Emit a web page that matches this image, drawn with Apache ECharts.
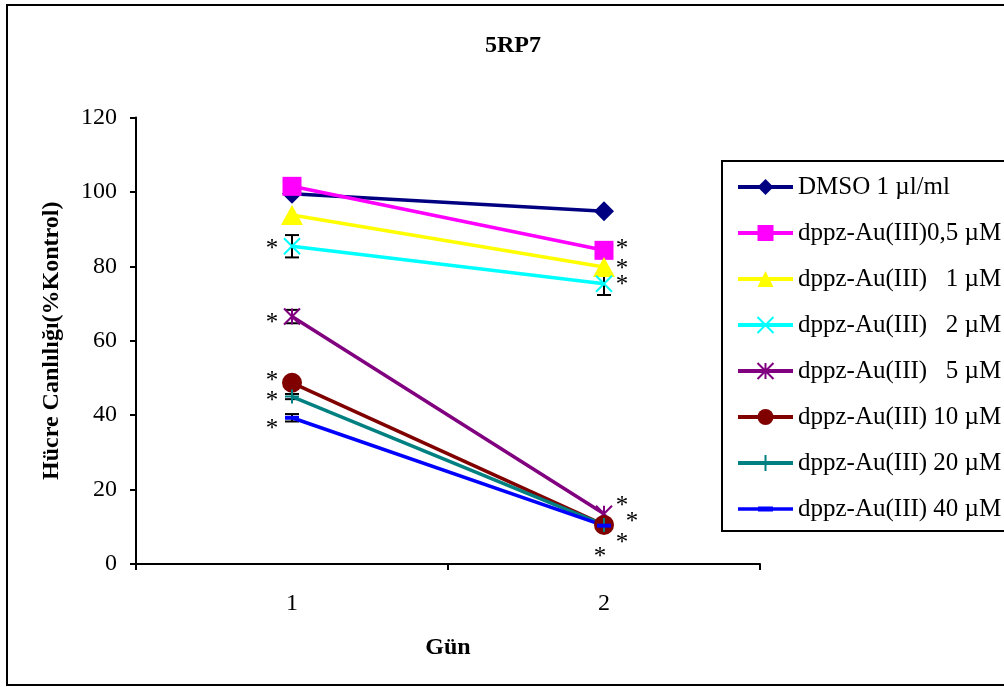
<!DOCTYPE html>
<html>
<head>
<meta charset="utf-8">
<script src="https://cdn.jsdelivr.net/npm/echarts@6/dist/echarts.min.js"></script>
<style>
  html, body { margin: 0; padding: 0; background: #fff; }
  #chart { width: 1004px; height: 687px; }
</style>
</head>
<body>
<div id="chart"></div>
<script>
// --- Data ---
const days = ['1', '2'];
const yTicks = [0, 20, 40, 60, 80, 100, 120];

const names = [
  'DMSO 1 µl/ml',
  'dppz-Au(III)0,5 µM',
  'dppz-Au(III)   1 µM',
  'dppz-Au(III)   2 µM',
  'dppz-Au(III)   5 µM',
  'dppz-Au(III) 10 µM',
  'dppz-Au(III) 20 µM',
  'dppz-Au(III) 40 µM'
];

const dmso = [99.5, 94.8];
const au05 = [101.5, 84.3];
const au1  = [93.8, 79.8];
const au2  = [85.4, 75.3];
const au5  = [66.5, 13.5];
const au10 = [48.7, 10.5];
const au20 = [45.0, 10.5];
const au40 = [39.3, 10.3];

// +/- error per day
const errDmso = [0, 0];
const err05   = [0, 0];
const err1    = [0, 0];
const err2    = [3, 3];
const err5    = [1.8, 0];
const err10   = [0, 0];
const err20   = [0.7, 0];
const err40   = [1, 0];

// significance asterisks (x in day-index units, y in %)
const starX = [-0.064, -0.064, -0.064, -0.064, -0.064, 1.058, 1.058, 1.058, 1.058, 1.09, 1.058, 0.987];
const starY = [85.4, 65.4, 49.8, 44.4, 37.1, 85.4, 80.0, 75.6, 16.4, 12.1, 6.2, 2.7];

// --- Styles ---
const FONT = "'Liberation Serif', 'Times New Roman', serif";
const colors  = ['#000080', '#FF00FF', '#FFFF00', '#00FFFF', '#800080', '#800000', '#008080', '#0000FF'];
const symbols = [
  'diamond',
  'rect',
  'triangle',
  'path://M0,0L10,10M0,10L10,0',
  'path://M0,0L10,10M0,10L10,0M5,0L5,10',
  'circle',
  'path://M0,5L10,5M5,0L5,10',
  'rect'
];
const symbolSizes = [20, 19, [22, 20], 16, 16, 20, 14, [14, 4]];
const values = [dmso, au05, au1, au2, au5, au10, au20, au40];
const errs   = [errDmso, err05, err1, err2, err5, err10, err20, err40];

const errData = [];
values.forEach((v, s) => {
  v.forEach((y, i) => {
    if (errs[s][i] > 0) errData.push([i, y - errs[s][i], y + errs[s][i]]);
  });
});

function renderErr(params, api) {
  const lo = api.coord([api.value(0), api.value(1)]);
  const hi = api.coord([api.value(0), api.value(2)]);
  const w = 7;
  const st = { stroke: '#000', lineWidth: 2 };
  return {
    type: 'group',
    children: [
      { type: 'line', shape: { x1: lo[0], y1: lo[1], x2: hi[0], y2: hi[1] }, style: st },
      { type: 'line', shape: { x1: lo[0] - w, y1: lo[1], x2: lo[0] + w, y2: lo[1] }, style: st },
      { type: 'line', shape: { x1: hi[0] - w, y1: hi[1], x2: hi[0] + w, y2: hi[1] }, style: st }
    ]
  };
}

function renderStar(params, api) {
  const p = api.coord([api.value(0), api.value(1)]);
  return {
    type: 'text',
    x: p[0],
    y: p[1] + 3,
    style: {
      text: '*',
      fontFamily: FONT,
      fontSize: 25,
      fill: '#000',
      align: 'center',
      verticalAlign: 'middle'
    }
  };
}

const lineSeries = names.map((name, s) => ({
  name,
  type: 'line',
  data: values[s],
  symbol: symbols[s],
  symbolSize: symbolSizes[s],
  lineStyle: { color: colors[s], width: 3.5 },
  itemStyle: {
    color: colors[s],
    borderColor: colors[s],
    borderWidth: symbols[s].startsWith('path') ? 2 : 0
  },
  emphasis: { disabled: true },
  z: 3
}));

// the 40 µM legend key is a plain line with a short thicker dash
const legendData = names.map((name, s) => s === 7
  ? { name, icon: 'path://M0,0M55,20M0,8.3L55,8.3L55,11.7L0,11.7ZM20,7.5L35,7.5L35,12.5L20,12.5Z' }
  : { name });

const chart = echarts.init(document.getElementById('chart'));
chart.setOption({
  animation: false,
  backgroundColor: '#fff',
  title: {
    text: '5RP7',
    left: 508,
    top: 29,
    textAlign: 'center',
    textStyle: { fontFamily: FONT, fontSize: 24, fontWeight: 'bold', color: '#000' }
  },
  graphic: [
    { type: 'rect', shape: { x: 7, y: 5, width: 1010, height: 680 },
      style: { fill: null, stroke: '#000', lineWidth: 2 }, z: 0 },
    { type: 'rect', shape: { x: 722, y: 161, width: 300, height: 370 },
      style: { fill: '#fff', stroke: '#000', lineWidth: 2 }, z: 0 }
  ],
  legend: {
    orient: 'vertical',
    left: 736,
    top: 174,
    padding: 0,
    itemWidth: 55,
    itemHeight: 20,
    itemGap: 20,
    data: legendData,
    lineStyle: { width: 4 },
    textStyle: { fontFamily: FONT, fontSize: 25, lineHeight: 26, color: '#000' },
    z: 5
  },
  grid: { left: 136, right: 244, top: 117.5, bottom: 123 },
  xAxis: [
    {
      type: 'category',
      data: days,
      name: 'Gün',
      nameLocation: 'middle',
      nameGap: 72,
      nameTextStyle: { fontFamily: FONT, fontSize: 24, fontWeight: 'bold', color: '#000' },
      axisLine: { lineStyle: { color: '#000', width: 2 } },
      axisTick: { show: true, length: 6, inside: false, lineStyle: { color: '#000', width: 2 } },
      axisLabel: { fontFamily: FONT, fontSize: 24, color: '#000', margin: 28 },
      splitLine: { show: false }
    },
    { type: 'value', min: -0.5, max: 1.5, show: false }
  ],
  yAxis: {
    type: 'value',
    min: yTicks[0],
    max: yTicks[yTicks.length - 1],
    interval: 20,
    name: 'Hücre Canlılığı(%Kontrol)',
    nameLocation: 'middle',
    nameGap: 72,
    nameRotate: 90,
    nameTextStyle: { fontFamily: FONT, fontSize: 24, fontWeight: 'bold', color: '#000' },
    axisLine: { show: true, onZero: false, lineStyle: { color: '#000', width: 2 } },
    axisTick: { show: true, length: 6, lineStyle: { color: '#000', width: 2 } },
    axisLabel: { fontFamily: FONT, fontSize: 24, color: '#000', margin: 19 },
    splitLine: { show: false }
  },
  series: [
    {
      type: 'custom',
      renderItem: renderErr,
      data: errData,
      z: 2,
      silent: true
    },
    ...lineSeries,
    {
      type: 'custom',
      xAxisIndex: 1,
      renderItem: renderStar,
      data: starX.map((x, i) => [x, starY[i]]),
      silent: true,
      z: 4
    }
  ]
});
</script>
</body>
</html>
